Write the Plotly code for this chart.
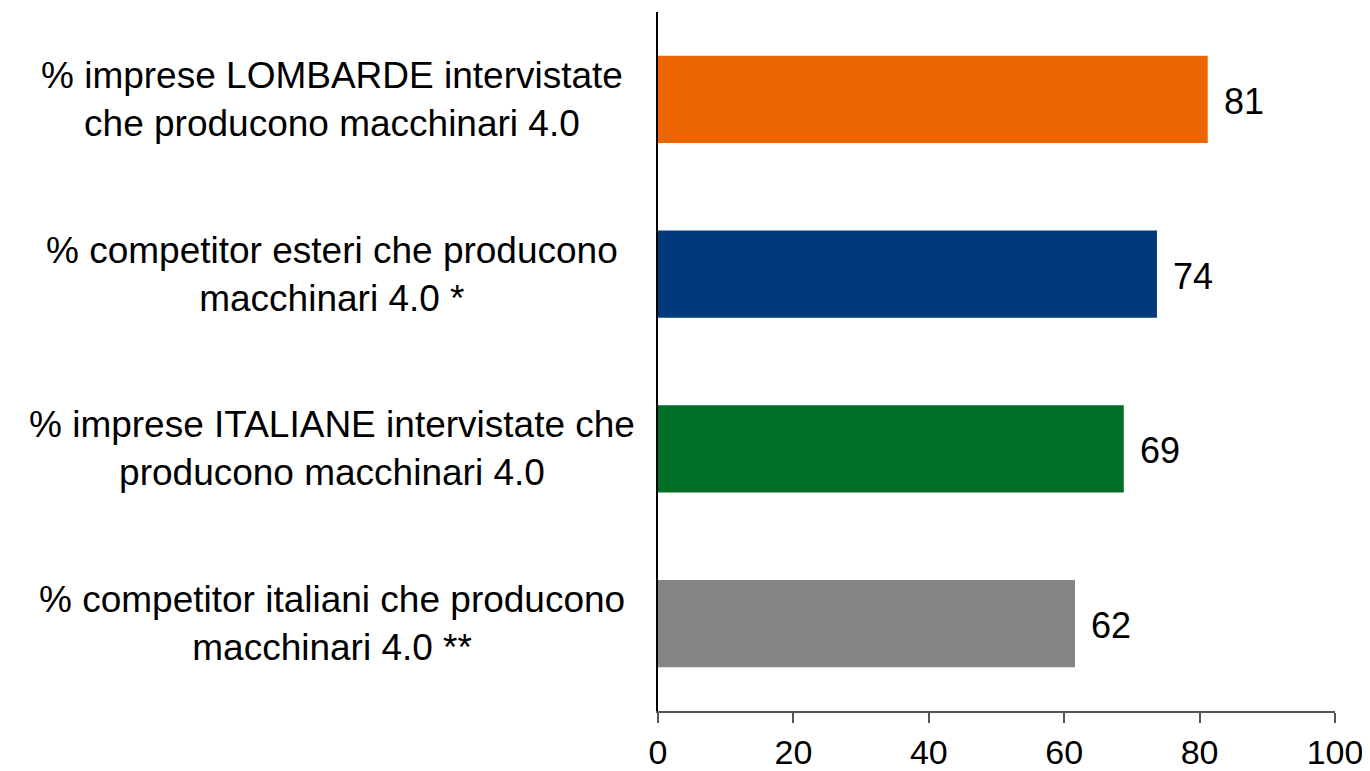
import plotly.graph_objects as go

categories = [
    "% imprese LOMBARDE intervistate<br>che producono macchinari 4.0",
    "% competitor esteri che producono<br>macchinari 4.0 *",
    "% imprese ITALIANE intervistate che<br>producono macchinari 4.0",
    "% competitor italiani che producono<br>macchinari 4.0 **",
]
values = [81.2, 73.7, 68.8, 61.6]
labels = ["81", "74", "69", "62"]
colors = ["#EC6500", "#003A7A", "#006F26", "#858585"]
x_ticks = [0, 20, 40, 60, 80, 100]

FONT = "Liberation Sans, Arial, sans-serif"

ypos = list(range(len(categories)))

fig = go.Figure()
fig.add_trace(go.Bar(
    x=values, y=ypos, orientation="h",
    marker=dict(color=colors, line=dict(width=0)),
    width=0.5, hoverinfo="skip",
))

annotations = []
for yi, cat, v, lab in zip(ypos, categories, values, labels):
    annotations.append(dict(
        x=-0.4815, xref="paper", y=yi, yref="y", text=cat, showarrow=False,
        xanchor="center", yanchor="middle", align="center",
        font=dict(family=FONT, size=37, color="#000000"),
    ))
    annotations.append(dict(
        x=v, xref="x", y=yi, yref="y", text=lab, showarrow=False,
        xanchor="left", yanchor="middle", xshift=14, yshift=-2,
        font=dict(family=FONT, size=36, color="#000000"),
    ))

fig.update_layout(
    width=1362, height=763,
    margin=dict(l=650, r=35, t=4, b=60, autoexpand=False),
    paper_bgcolor="white", plot_bgcolor="white",
    showlegend=False,
    annotations=annotations,
    xaxis=dict(
        range=[0, 100], tickvals=x_ticks, ticktext=[str(t) for t in x_ticks],
        showgrid=False, zeroline=False, automargin=False,
        showline=True, linecolor="#555555", linewidth=1.5,
        ticks="outside", ticklen=10, tickcolor="#555555", tickwidth=1.5,
        tickfont=dict(family=FONT, size=34, color="#000000"),
        ticklabelstandoff=0,
    ),
    yaxis=dict(
        range=[3.5, -0.5], showticklabels=False, showgrid=False, zeroline=False,
        automargin=False,
        showline=True, linecolor="#000000", linewidth=2, ticks="",
    ),
)

fig.write_html("out.html")
